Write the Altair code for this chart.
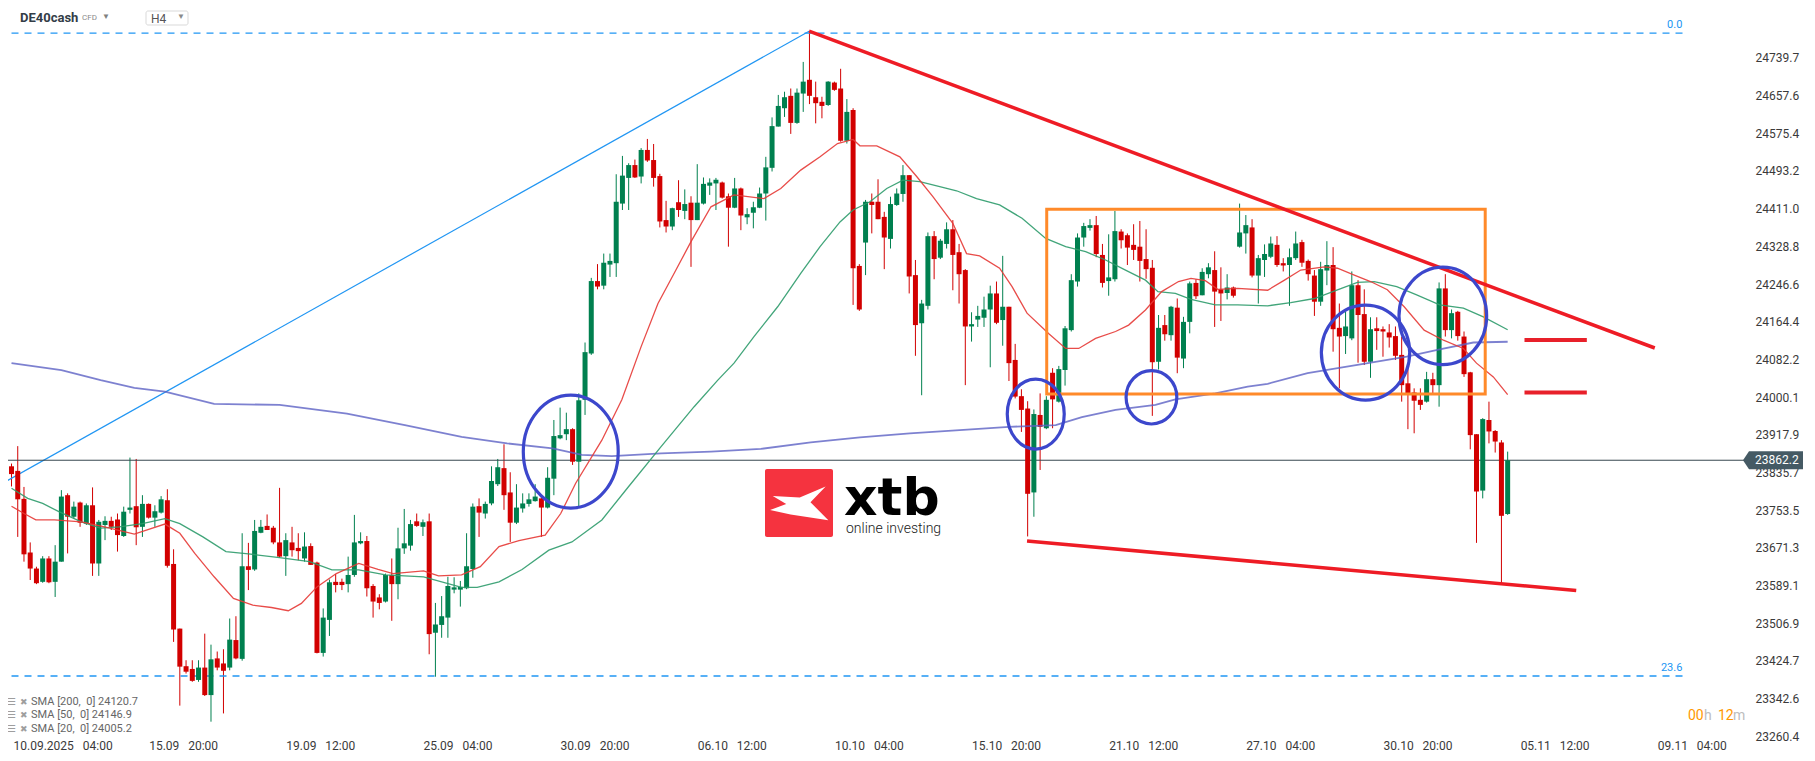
import altair as alt
import pandas as pd

# ---------------- candle data (H4 bars, index 0..240) ----------------
opens = [23849, 23839, 23778, 23661, 23626, 23597, 23648, 23597, 23641, 23786,
         23739, 23770, 23724, 23764, 23637, 23721, 23730, 23733, 23697, 23754,
         23762, 23717, 23767, 23737, 23748, 23775, 23636, 23495, 23413, 23407,
         23383, 23410, 23350, 23430, 23419, 23410, 23470, 23429, 23631, 23624,
         23704, 23719, 23715, 23683, 23653, 23683, 23671, 23648, 23675, 23639,
         23442, 23514, 23597, 23597, 23592, 23612, 23681, 23686, 23588, 23563,
         23554, 23612, 23592, 23670, 23676, 23729, 23717, 23729, 23486, 23503,
         23519, 23580, 23580, 23583, 23625, 23762, 23746, 23768, 23810, 23845,
         23792, 23726, 23757, 23767, 23773, 23779, 23759, 23822, 23910, 23919,
         23930, 23859, 23994, 24095, 24253, 24243, 24289, 24292, 24422, 24478,
         24506, 24481, 24539, 24517, 24482, 24386, 24372, 24425, 24406, 24424,
         24386, 24422, 24461, 24466, 24468, 24438, 24413, 24455, 24392, 24402,
         24413, 24444, 24500, 24590, 24630, 24657, 24598, 24662, 24692, 24654,
         24644, 24637, 24686, 24673, 24559, 24626, 24286, 24337, 24426, 24426,
         24393, 24345, 24419, 24443, 24484, 24266, 24161, 24199, 24351, 24304,
         24334, 24366, 24316, 24277, 24154, 24169, 24173, 24191, 24226, 24168,
         24197, 24081, 24002, 23975, 23792, 23961, 23932, 24053, 23990, 24059,
         24146, 24252, 24348, 24369, 24375, 24310, 24253, 24257, 24361, 24353,
         24332, 24328, 24301, 24282, 24077, 24157, 24135, 24195, 24084, 24164,
         24249, 24222, 24268, 24277, 24235, 24227, 24239, 24328, 24357, 24370,
         24265, 24299, 24306, 24332, 24292, 24288, 24303, 24338, 24297, 24265,
         24208, 24276, 24288, 24151, 24133, 24128, 24244, 24181, 24077, 24150,
         24148, 24141, 24133, 24092, 24030, 24010, 23994, 23990, 24039, 24026,
         24237, 24146, 24186, 24132, 24054, 23919, 23796, 23950, 23926, 23901,
         23745]
highs = [23855, 23893, 23804, 23683, 23630, 23653, 23653, 23677, 23797, 23790,
         23772, 23772, 23768, 23803, 23732, 23740, 23739, 23746, 23761, 23868,
         23865, 23786, 23768, 23764, 23784, 23799, 23668, 23495, 23426, 23426,
         23426, 23484, 23460, 23445, 23450, 23517, 23522, 23703, 23682, 23732,
         23732, 23744, 23719, 23802, 23703, 23717, 23703, 23705, 23681, 23641,
         23539, 23602, 23614, 23604, 23652, 23743, 23705, 23697, 23592, 23570,
         23615, 23648, 23715, 23756, 23732, 23746, 23733, 23746, 23551, 23566,
         23608, 23607, 23599, 23703, 23768, 23779, 23772, 23849, 23865, 23897,
         23836, 23810, 23790, 23790, 23810, 23786, 23847, 23950, 23977, 23966,
         23932, 24008, 24119, 24260, 24290, 24313, 24313, 24486, 24526, 24510,
         24518, 24543, 24563, 24552, 24487, 24428, 24413, 24473, 24453, 24438,
         24508, 24479, 24477, 24478, 24470, 24444, 24478, 24457, 24412, 24426,
         24457, 24524, 24610, 24659, 24666, 24673, 24673, 24731, 24798, 24688,
         24655, 24689, 24688, 24716, 24650, 24630, 24290, 24430, 24444, 24475,
         24404, 24437, 24455, 24506, 24484, 24299, 24212, 24359, 24362, 24345,
         24381, 24386, 24334, 24279, 24185, 24199, 24219, 24243, 24252, 24308,
         24197, 24116, 24017, 23991, 23973, 24008, 24002, 24063, 24068, 24155,
         24268, 24357, 24380, 24388, 24395, 24334, 24355, 24406, 24366, 24357,
         24377, 24384, 24366, 24299, 24179, 24179, 24199, 24215, 24175, 24252,
         24257, 24281, 24292, 24318, 24283, 24268, 24241, 24422, 24397, 24388,
         24310, 24333, 24350, 24351, 24303, 24324, 24361, 24343, 24300, 24277,
         24295, 24340, 24327, 24204, 24186, 24274, 24255, 24235, 24174, 24174,
         24154, 24159, 24154, 24132, 24070, 24019, 24019, 24055, 24053, 24250,
         24268, 24191, 24188, 24143, 24055, 23919, 23954, 23990, 23928, 23906,
         23881]
lows = [23805, 23695, 23641, 23601, 23592, 23595, 23594, 23564, 23641, 23659,
        23735, 23717, 23721, 23610, 23610, 23688, 23710, 23663, 23695, 23746,
        23677, 23695, 23735, 23717, 23746, 23628, 23466, 23327, 23397, 23379,
        23379, 23348, 23292, 23404, 23310, 23404, 23428, 23425, 23579, 23621,
        23703, 23710, 23679, 23650, 23610, 23652, 23644, 23641, 23634, 23441,
        23434, 23479, 23574, 23579, 23574, 23608, 23679, 23565, 23519, 23537,
        23552, 23512, 23559, 23658, 23665, 23717, 23697, 23439, 23390, 23475,
        23475, 23572, 23543, 23581, 23606, 23695, 23735, 23764, 23806, 23754,
        23684, 23723, 23748, 23761, 23772, 23695, 23757, 23786, 23908, 23906,
        23852, 23761, 23961, 24092, 24235, 24235, 24262, 24262, 24408, 24408,
        24478, 24466, 24513, 24459, 24370, 24359, 24364, 24393, 24388, 24284,
        24386, 24420, 24441, 24408, 24433, 24328, 24412, 24364, 24377, 24368,
        24412, 24385, 24492, 24590, 24611, 24574, 24596, 24622, 24639, 24597,
        24608, 24635, 24668, 24557, 24553, 24201, 24188, 24266, 24357, 24388,
        24279, 24324, 24417, 24426, 24226, 24090, 24004, 24191, 24257, 24301,
        24324, 24233, 24204, 24026, 24121, 24153, 24153, 24065, 24159, 24112,
        24035, 23997, 23924, 23696, 23739, 23841, 23930, 23932, 23988, 24025,
        24143, 24241, 24328, 24363, 24305, 24239, 24221, 24252, 24324, 24288,
        24299, 24252, 24258, 23959, 24060, 24123, 24123, 24052, 24063, 24139,
        24214, 24222, 24259, 24153, 24166, 24213, 24217, 24326, 24313, 24261,
        24204, 24262, 24303, 24284, 24274, 24199, 24299, 24284, 24254, 24177,
        24199, 24244, 24099, 24019, 24094, 24124, 24075, 24070, 24042, 24103,
        24088, 24108, 24081, 23990, 23930, 23921, 23972, 23988, 24007, 23979,
        24132, 24128, 24123, 24044, 23886, 23682, 23779, 23899, 23879, 23594,
        23743]
closes = [23832, 23777, 23657, 23626, 23594, 23648, 23596, 23641, 23783, 23739,
          23761, 23726, 23764, 23637, 23728, 23730, 23717, 23699, 23750, 23759,
          23716, 23767, 23737, 23751, 23777, 23632, 23493, 23412, 23401, 23381,
          23410, 23350, 23428, 23410, 23403, 23471, 23430, 23631, 23623, 23708,
          23717, 23710, 23683, 23652, 23688, 23666, 23664, 23674, 23634, 23442,
          23519, 23596, 23590, 23590, 23612, 23683, 23686, 23583, 23554, 23551,
          23612, 23592, 23670, 23681, 23723, 23719, 23727, 23483, 23504, 23522,
          23588, 23585, 23586, 23631, 23761, 23748, 23767, 23817, 23847, 23786,
          23726, 23759, 23768, 23777, 23783, 23759, 23824, 23915, 23917, 23930,
          23859, 23993, 24098, 24253, 24241, 24293, 24297, 24426, 24483, 24506,
          24479, 24539, 24516, 24478, 24383, 24372, 24412, 24408, 24421, 24386,
          24424, 24465, 24468, 24474, 24435, 24413, 24455, 24396, 24399, 24414,
          24444, 24501, 24591, 24635, 24654, 24598, 24664, 24688, 24657, 24641,
          24635, 24688, 24670, 24559, 24622, 24281, 24191, 24426, 24419, 24388,
          24348, 24421, 24444, 24484, 24263, 24157, 24204, 24351, 24301, 24341,
          24366, 24310, 24268, 24154, 24159, 24177, 24191, 24226, 24162, 24197,
          24074, 24001, 23972, 23789, 23963, 23935, 23994, 23995, 24061, 24150,
          24255, 24348, 24373, 24375, 24312, 24249, 24261, 24362, 24342, 24326,
          24321, 24297, 24279, 24076, 24151, 24137, 24197, 24086, 24164, 24248,
          24220, 24273, 24283, 24230, 24226, 24239, 24221, 24359, 24375, 24265,
          24303, 24312, 24335, 24288, 24287, 24305, 24335, 24293, 24268, 24208,
          24279, 24288, 24148, 24132, 24154, 24244, 24179, 24077, 24148, 24144,
          24143, 24130, 24090, 24026, 24008, 23992, 23983, 24039, 24026, 24237,
          24146, 24183, 24133, 24050, 23917, 23794, 23952, 23925, 23903, 23741,
          23862.2]

# ---------------- indicator series ----------------
sma20_idx = [0, 2.0, 3.9, 6.9, 11.2, 14.9, 19.7, 24.6, 27.0, 29.4, 32.5, 35.6, 38.7, 41.7, 44.4,
             46.5, 49.0, 52.1, 55.7, 58.8, 61.2, 66.1, 68.5, 72.2, 75.2, 78.2, 81.4, 85.6, 88.1,
             90.5, 94.7, 97.9, 101.0, 103.7, 106.3, 109.0, 112.2, 115.9, 120.7, 123.4, 126.6,
             129.7, 132.5, 135.0, 136.1, 138.8, 142.5, 145.2, 147.8, 151.0, 153.2, 155.3, 158.5,
             160.5, 162.9, 166.4, 169.1, 171.2, 173.9, 177.1, 179.2, 181.9, 184.5, 187.2, 189.2,
             191.5, 193.5, 196.7, 201.5, 204.2, 206.8, 210.6, 212.7, 215.4, 218.0, 220.7, 223.4,
             226.6, 229.7, 232.9, 235.0, 237.7, 240.0]
sma20_val = [23762, 23746, 23732, 23732, 23728, 23717, 23701, 23723, 23703, 23659, 23608, 23561,
             23546, 23541, 23534, 23550, 23586, 23615, 23637, 23624, 23615, 23621, 23610, 23612,
             23630, 23674, 23687, 23699, 23746, 23812, 23906, 23994, 24110, 24204, 24270, 24339,
             24415, 24441, 24433, 24455, 24495, 24524, 24553, 24562, 24548, 24548, 24524, 24481,
             24437, 24379, 24313, 24308, 24281, 24241, 24183, 24138, 24106, 24106, 24128, 24143,
             24157, 24190, 24230, 24252, 24259, 24254, 24235, 24237, 24233, 24255, 24277, 24284,
             24281, 24266, 24252, 24234, 24197, 24146, 24124, 24106, 24074, 24044, 24005.2]
sma50_idx = [0, 2.6, 5.0, 7.6, 11.2, 14.3, 17.3, 21.0, 24.6, 27.0, 30.7, 34.4, 38.0, 43.0, 47.8,
             51.4, 55.7, 60.0, 66.1, 72.2, 74.7, 78.2, 81.9, 86.2, 89.9, 94.7, 99.0, 104.2, 109.5,
             113.3, 115.9, 119.1, 122.9, 126.6, 129.7, 132.9, 135.0, 137.7, 140.4, 143.0, 145.7,
             148.9, 151.6, 154.8, 158.5, 162.1, 165.9, 169.1, 172.3, 175.5, 178.7, 181.9, 183.9,
             186.7, 189.2, 193.1, 196.7, 201.5, 205.2, 209.0, 212.7, 215.9, 218.6, 222.2, 225.4,
             229.1, 232.9, 236.1, 240.0]
sma50_val = [23801, 23779, 23768, 23750, 23728, 23714, 23717, 23724, 23735, 23724, 23695, 23663,
             23658, 23650, 23641, 23623, 23623, 23612, 23608, 23585, 23585, 23597, 23624, 23666,
             23684, 23732, 23805, 23892, 23979, 24037, 24074, 24132, 24197, 24270, 24328, 24382,
             24408, 24426, 24455, 24473, 24470, 24459, 24450, 24433, 24419, 24390, 24346, 24328,
             24317, 24299, 24277, 24255, 24230, 24226, 24213, 24201, 24201, 24199, 24206, 24215,
             24234, 24250, 24252, 24241, 24223, 24201, 24194, 24175, 24146.9]
sma200_idx = [0, 8.0, 14.3, 19.7, 24.6, 32.5, 43.0, 53.8, 63.1, 72.2, 79.5, 86.8, 91.5, 96.3,
              104.2, 112.2, 120.2, 128.2, 136.1, 144.1, 152.1, 160.0, 167.5, 171.7, 177.1, 183.5,
              186.7, 193.1, 198.3, 201.5, 207.9, 215.9, 223.8, 229.1, 234.5, 240.0]
sma200_val = [24074, 24059, 24037, 24020, 24012, 23985, 23983, 23964, 23939, 23913, 23899, 23888,
              23874, 23871, 23877, 23881, 23887, 23901, 23912, 23921, 23928, 23935, 23939, 23956,
              23972, 23983, 23995, 24008, 24023, 24029, 24052, 24070, 24088, 24104, 24119, 24120.7]

legend_labels = ["SMA [200,\u00a0\u00a00] 24120.7", "SMA [50,\u00a0\u00a00] 24146.9", "SMA [20,\u00a0\u00a00] 24005.2"]

# ---------------- axes ----------------
price_ticks = [24739.7, 24657.6, 24575.4, 24493.2, 24411.0, 24328.8, 24246.6, 24164.4, 24082.2,
               24000.1, 23917.9, 23835.7, 23753.5, 23671.3, 23589.1, 23506.9, 23424.7, 23342.6,
               23260.4]
date_tick_idx = [0.25, 22, 44, 66, 88, 110, 132, 154, 176, 198, 220, 242, 264]
date_days = ["10.09.2025", "15.09", "19.09", "25.09", "30.09", "06.10", "10.10", "15.10",
             "21.10", "27.10", "30.10", "05.11", "09.11"]
date_times = ["04:00", "20:00", "12:00", "04:00", "20:00", "12:00", "04:00", "20:00",
              "12:00", "04:00", "20:00", "12:00", "04:00"]

# ---------------- drawings ----------------
current_price = 23862.2
fib_names = ["0.0", "23.6"]
fib_prices = [24794.0, 23391.6]
fib_from, fib_to = 0.0, 268.5
diag_idx = [-1.04, 127.94]
diag_price = [23815, 24798]
upper_idx = [127.94, 263.6]
upper_price = [24798, 24107]
lower_idx = [162.9, 251.0]
lower_price = [23686, 23578]
mark_from, mark_to = 242.7, 252.7
mark_prices = [24124.5, 24010.0]
box_idx = [166.06, 236.4]
box_price = [24006.7, 24409.5]
circle_idx = [89.71, 164.3, 182.86, 217.2, 229.6]
circle_price = [23881, 23963, 23999.5, 24097, 24177]

# ---------------- styling ----------------
W, H = 1737, 730
GREEN, RED = "#00804f", "#d20000"
FONT = "Roboto"
xs = alt.Scale(domain=[0.2392, 277.27], nice=False, zero=False)
ys = alt.Scale(domain=[23256.4, 24848.6], nice=False, zero=False)


def X(f):
    return alt.X(f, type="quantitative", scale=xs, title=None)


def Y(f):
    return alt.Y(f, type="quantitative", scale=ys, title=None)


candles = pd.DataFrame({"i": list(range(len(opens))), "o": opens, "h": highs, "l": lows, "c": closes})
up = alt.condition("datum.c >= datum.o", alt.value(GREEN), alt.value(RED))

label_arr = "[" + ",".join("'" + d + "\u00a0\u00a0\u00a0" + t + "'" for d, t in zip(date_days, date_times)) + "]"

x_axis = alt.Axis(values=date_tick_idx, labelExpr=label_arr + "[round(datum.value / 22)]",
                  domain=False, ticks=False, tickSize=0, grid=False, labelAlign="left",
                  labelBaseline="top", labelPadding=2, labelFlush=False, labelOverlap=False,
                  labelFont=FONT, labelFontSize=12, labelColor="#3a3a3a", title=None)
y_axis = alt.Axis(orient="right", values=price_ticks, format=".1f", domain=False, ticks=False,
                  tickSize=0, grid=False, labelPadding=10, labelOverlap=False, labelFont=FONT,
                  labelFontSize=12, labelColor="#3a3a3a", title=None)

layers = []

# candles (this layer carries both axes)
layers.append(alt.Chart(candles).mark_rule(strokeWidth=1, clip=True).encode(
    x=alt.X("i:Q", scale=xs, axis=x_axis, title=None),
    y=alt.Y("l:Q", scale=ys, axis=y_axis, title=None), y2="h:Q", color=up))

# fib levels
fib_df = pd.DataFrame({"name": fib_names, "p": fib_prices, "a": [fib_from] * 2, "b": [fib_to] * 2})
layers.append(alt.Chart(fib_df).mark_rule(color="#2196f3", strokeWidth=1.3, strokeDash=[7, 6], clip=True)
              .encode(x=X("a"), x2="b", y=Y("p")))
layers.append(alt.Chart(fib_df).mark_text(color="#2196f3", font=FONT, fontSize=11, align="right",
                                          baseline="bottom", dx=-3, dy=-3)
              .encode(x=X("b"), y=Y("p"), text="name"))

# blue diagonal of the fibonacci tool
layers.append(alt.Chart(pd.DataFrame({"i": diag_idx, "p": diag_price}))
              .mark_line(color="#2196f3", strokeWidth=1.2, clip=True)
              .encode(x=X("i"), y=Y("p")))

# current price line
layers.append(alt.Chart(pd.DataFrame({"p": [current_price]})).mark_rule(color="#37474f", strokeWidth=1)
              .encode(y=Y("p")))

# candle bodies
layers.append(alt.Chart(candles).mark_bar(size=5, clip=True).encode(
    x=X("i"), y=Y("o"), y2="c:Q", color=up))

# moving averages
for idx, val, col, w, op in [(sma200_idx, sma200_val, "#5c62c4", 1.8, 0.8),
                             (sma50_idx, sma50_val, "#2e9b6b", 1.3, 0.9),
                             (sma20_idx, sma20_val, "#e53935", 1.3, 0.9)]:
    layers.append(alt.Chart(pd.DataFrame({"i": idx, "p": val}))
                  .mark_line(color=col, strokeWidth=w, opacity=op, clip=True)
                  .encode(x=X("i"), y=Y("p")))

# orange consolidation box
layers.append(alt.Chart(pd.DataFrame({"a": [box_idx[0]], "b": [box_idx[1]], "p0": [box_price[0]], "p1": [box_price[1]]}))
              .mark_rect(fillOpacity=0, stroke="#ff8a2a", strokeWidth=3)
              .encode(x=X("a"), x2="b", y=Y("p0"), y2="p1"))

# red trend lines
for idx, pr in [(upper_idx, upper_price), (lower_idx, lower_price)]:
    layers.append(alt.Chart(pd.DataFrame({"i": idx, "p": pr}))
                  .mark_line(color="#ee1c25", strokeWidth=3.5)
                  .encode(x=X("i"), y=Y("p")))
layers.append(alt.Chart(pd.DataFrame({"p": mark_prices, "a": [mark_from] * 2, "b": [mark_to] * 2}))
              .mark_rule(color="#e8202a", strokeWidth=4)
              .encode(x=X("a"), x2="b", y=Y("p")))

# blue circles (ellipses)
circle_heights = [113, 70, 53.4, 95, 97.4]
circle_aspects = [0.84, 0.814, 0.95, 0.93, 0.90]
for ci, cp, hgt, asp in zip(circle_idx, circle_price, circle_heights, circle_aspects):
    path = f"M {-asp} 0 A {asp} 1 0 0 1 {asp} 0 A {asp} 1 0 0 1 {-asp} 0 Z"
    layers.append(alt.Chart(pd.DataFrame({"i": [ci], "p": [cp]}))
                  .mark_point(shape=path, size=hgt * hgt, filled=False, stroke="#3c47cc",
                              strokeWidth=3.2, opacity=1)
                  .encode(x=X("i"), y=Y("p")))

# xtb watermark logo
one = pd.DataFrame({"k": [0]})
layers.append(alt.Chart(one).mark_rect(color="#f5333f", cornerRadius=2)
              .encode(x=alt.value(757), x2=alt.value(825), y=alt.value(461), y2=alt.value(529)))
xpath = "M -0.77 -0.22 L 0.03 -0.17 L 0.80 -0.50 L 0.35 -0.03 L 0.88 0.50 L -0.24 0.33 L -0.85 0.20 L -0.37 0.02 Z"
layers.append(alt.Chart(one).mark_point(shape=xpath, size=4543, filled=True, color="white", opacity=1)
              .encode(x=alt.value(790.7), y=alt.value(495.3)))
layers.append(alt.Chart(pd.DataFrame({"t": ["xtb"]})).mark_text(font="DejaVu Sans", fontWeight="bold", fontSize=52,
                                                                 color="#000000", align="left", baseline="alphabetic")
              .encode(x=alt.value(836), y=alt.value(507), text="t"))
layers.append(alt.Chart(pd.DataFrame({"t": ["online investing"]})).mark_text(font=FONT, fontWeight=300, fontSize=14,
                                                                              color="#1a1a1a", align="left", baseline="alphabetic")
              .encode(x=alt.value(838), y=alt.value(525), text="t"))

# header
layers.append(alt.Chart(one).mark_rect(fill="white", stroke="#d9d9d9", strokeWidth=1, cornerRadius=2)
              .encode(x=alt.value(138), x2=alt.value(180), y=alt.value(3), y2=alt.value(17)))
for txt, x, y, size, weight, col in [("DE40cash", 12, 9.5, 13, "bold", "#333d47"),
                                     ("CFD", 74, 10, 8, "normal", "#8a8a8a"),
                                     ("▼", 94, 8.5, 8, "normal", "#808080"),
                                     ("H4", 143, 10.5, 12, "normal", "#555555"),
                                     ("▼", 169, 8.5, 8, "normal", "#8a8a8a")]:
    layers.append(alt.Chart(pd.DataFrame({"t": [txt]})).mark_text(font=FONT, fontSize=size, fontWeight=weight,
                                                                  color=col, align="left", baseline="middle")
                  .encode(x=alt.value(x), y=alt.value(y), text="t"))

# indicator legend (one row per moving average)
legend_rows_y = [694, 707, 721]
for lab, ly in zip(legend_labels, legend_rows_y):
    d = pd.DataFrame({"t": [lab], "icon": ["☰"], "cross": ["✖"]})
    for fld, x, col, size, font in [("icon", -1, "#9e9e9e", 10, "DejaVu Sans"),
                                    ("cross", 12, "#9e9e9e", 9, "DejaVu Sans"),
                                    ("t", 23, "#666666", 11, FONT)]:
        layers.append(alt.Chart(d).mark_text(font=font, fontSize=size, color=col, align="left", baseline="middle")
                      .encode(x=alt.value(x), y=alt.value(ly), text=f"{fld}:N"))

# current price tag
tag_path = "M -1 0 L -0.8 -0.3 L 1 -0.3 L 1 0.3 L -0.8 0.3 Z"
layers.append(alt.Chart(pd.DataFrame({"p": [current_price]}))
              .mark_point(shape=tag_path, size=3600, filled=True, color="#455a64", opacity=1)
              .encode(x=alt.value(1765), y=Y("p")))
layers.append(alt.Chart(pd.DataFrame({"p": [current_price], "t": ["23862.2"]}))
              .mark_text(font=FONT, fontSize=12, color="white", align="left", baseline="middle")
              .encode(x=alt.value(1747), y=Y("p"), text="t"))

# candle countdown
for txt, x, col in [("00", 1680, "#ff9800"), ("h", 1696, "#bdbdbd"), ("12", 1710, "#ff9800"), ("m", 1725, "#bdbdbd")]:
    layers.append(alt.Chart(pd.DataFrame({"t": [txt]})).mark_text(font=FONT, fontSize=14, color=col,
                                                                  align="left", baseline="middle")
                  .encode(x=alt.value(x), y=alt.value(708), text="t"))

chart = (alt.layer(*layers)
         .properties(width=W, height=H, background="white",
                     padding={"left": 0, "top": 0, "right": 58, "bottom": 15},
                     autosize=alt.AutoSizeParams(type="none"))
         .configure_view(strokeWidth=0))

chart.save("out.html", embed_options={"renderer": "svg", "actions": False})
